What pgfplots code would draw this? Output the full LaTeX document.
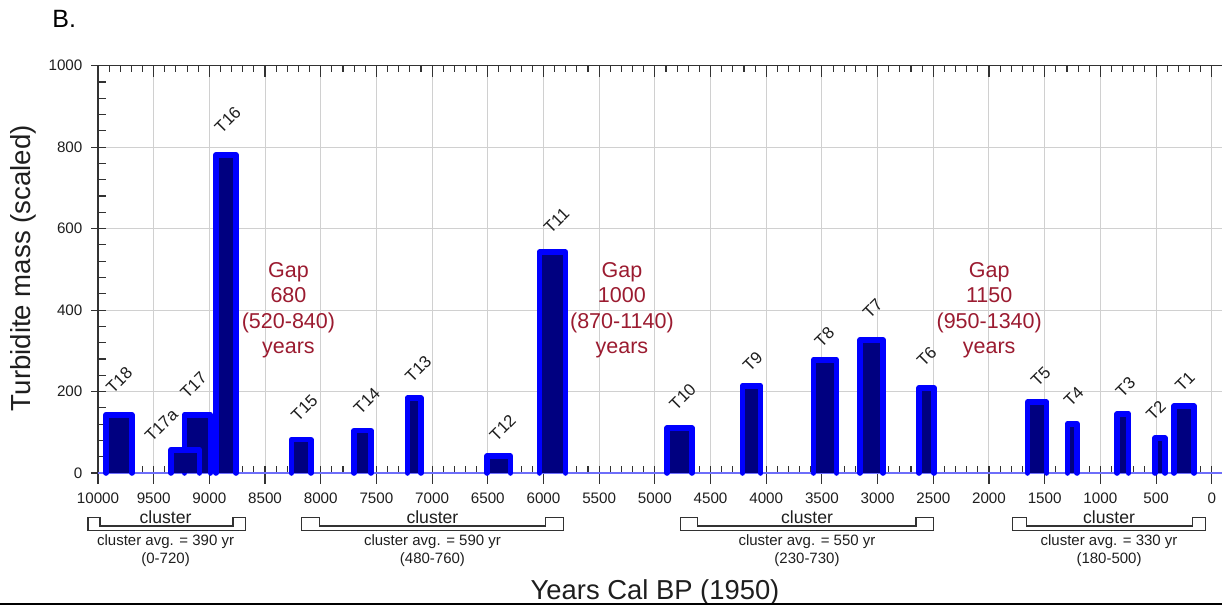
\documentclass[border=0pt]{standalone}
\usepackage{fontspec}
\setmainfont{Liberation Sans}
\usepackage{pgfplots}
\pgfplotsset{compat=1.18}

\definecolor{barblue}{RGB}{0,0,255}
\definecolor{barnavy}{RGB}{0,0,128}
\definecolor{zeroblue}{RGB}{110,110,250}
\definecolor{gridgray}{RGB}{208,208,208}
\definecolor{axisgray}{RGB}{50,50,50}
\definecolor{gapred}{RGB}{155,27,48}
\definecolor{labelgray}{RGB}{30,30,30}

% one turbidite: age range (older, younger) and scaled mass
\newcommand{\turbidite}[3]{\addplot[tbar] coordinates {(#1,0) (#1,#3) (#2,#3) (#2,0)};}
% cluster bracket: outer left, inner left, inner right, outer right (years)
\newcommand{\clusterbracket}[4]{%
  \draw[bracket] (axis cs:#1,-109.7) -- (axis cs:#1,-141.7) -- (axis cs:#4,-141.7)
    -- (axis cs:#4,-109.7) -- (axis cs:#3,-109.7) -- (axis cs:#3,-130.1)
    -- (axis cs:#2,-130.1) -- (axis cs:#2,-109.7) -- cycle;}

\begin{document}
\begin{tikzpicture}[
  tbar/.style={draw=barblue, fill=barnavy, line width=2.8pt, line join=round, line cap=round, mark=none},
  tlab/.style={rotate=45, anchor=base west, inner sep=0pt, xshift=2.2pt, yshift=-1pt,
    font=\fontsize{8.4}{9}\selectfont, text=labelgray},
  gaptext/.style={text=gapred, align=center, inner sep=0pt, font=\fontsize{10.75}{12.75}\selectfont},
  bracket/.style={draw=axisgray, line width=0.6pt},
  cltext/.style={anchor=base, inner sep=0pt, text=labelgray},
  tickc/.style={draw=axisgray, line width=0.55pt},
]
\path[use as bounding box] (-49pt,-66pt) rectangle (562pt,236.5pt);

\begin{axis}[
  at={(0,0)}, anchor=south west,
  scale only axis, width=562pt, height=203.65pt,
  x dir=reverse, xmin=-92, xmax=10000, ymin=0, ymax=1000,
  xtick={0,500,...,10000}, ytick={0,200,...,1000},
  scaled ticks=false,
  grid=major, grid style={gridgray, line width=0.5pt},
  axis line style={draw=none},
  major tick length=0pt, minor tick length=0pt,
  tick style={draw=none},
  clip=false,
  /pgf/number format/assume math mode=true,
  /pgf/number format/set thousands separator={},
  ticklabel style={font=\fontsize{7.6}{9}\selectfont, text=labelgray, inner sep=0pt},
  xticklabel style={anchor=base, yshift=-15.5pt},
  yticklabel style={anchor=east, xshift=-7.6pt},
  xlabel={Years Cal BP (1950)},
  xlabel style={at={(axis description cs:0.4956,-0.3094)}, anchor=base,
    font=\fontsize{13.7}{16}\selectfont, text=labelgray, inner sep=0pt},
  ylabel={Turbidite mass (scaled)},
  ylabel style={at={(axis description cs:-0.0667,0.503)}, anchor=center,
    font=\fontsize{13.8}{16}\selectfont, text=labelgray, inner sep=0pt},
]

% tick marks: top axis inward, zero line major outward / minor inward, left axis
\pgfplotsinvokeforeach{0,100,...,10000}{
  \draw[tickc] (axis cs:#1,1000) -- ++(0pt,-3pt);
  \draw[tickc] (axis cs:#1,0) -- ++(0pt,3.5pt);
}
\pgfplotsinvokeforeach{0,500,...,10000}{
  \draw[tickc] (axis cs:#1,1000) -- ++(0pt,-5.8pt);
  \draw[tickc] (axis cs:#1,0) -- ++(0pt,-5.3pt);
}
\pgfplotsinvokeforeach{0,40,...,1000}{
  \draw[tickc] (axis cs:10000,#1) -- ++(4pt,0pt);
}
\pgfplotsinvokeforeach{0,200,...,1000}{
  \draw[tickc] (axis cs:10000,#1) -- ++(-3.3pt,0pt);
}

% frame: left and top axis lines, blue zero line
\draw[axisgray, line width=0.55pt] (axis cs:10000,0) -- (axis cs:10000,1000) -- (axis cs:-92,1000);
\draw[zeroblue, line width=0.85pt] (axis cs:10000,0) -- (axis cs:-92,0);

% turbidites
\turbidite{9928}{9695}{143}
\turbidite{9223}{8990}{143}
\turbidite{8941}{8761}{781}
\turbidite{9345}{9089}{57}
\turbidite{8263}{8088}{82}
\turbidite{7701}{7549}{104}
\turbidite{7221}{7100}{184}
\turbidite{6507}{6296}{41}
\turbidite{6036}{5802}{542}
\turbidite{4891}{4667}{110}
\turbidite{4213}{4050}{214}
\turbidite{3576}{3369}{278}
\turbidite{3158}{2951}{327}
\turbidite{2628}{2493}{209}
\turbidite{1654}{1483}{174}
\turbidite{1295}{1209}{121}
\turbidite{850}{747}{145}
\turbidite{509}{419}{86}
\turbidite{339}{159}{164}

% event labels
\node[tlab] at (axis cs:9908,187) {T18};
\node[tlab] at (axis cs:9560,69) {T17a};
\node[tlab] at (axis cs:9240,176) {T17};
\node[tlab] at (axis cs:8934,827) {T16};
\node[tlab] at (axis cs:8246,120) {T15};
\node[tlab] at (axis cs:7684,137) {T14};
\node[tlab] at (axis cs:7223,216) {T13};
\node[tlab] at (axis cs:6465,71) {T12};
\node[tlab] at (axis cs:5977,580) {T11};
\node[tlab] at (axis cs:4849,147) {T10};
\node[tlab] at (axis cs:4191,241) {T9};
\node[tlab] at (axis cs:3547,302) {T8};
\node[tlab] at (axis cs:3113,371) {T7};
\node[tlab] at (axis cs:2628,253) {T6};
\node[tlab] at (axis cs:1605,205) {T5};
\node[tlab] at (axis cs:1308,155) {T4};
\node[tlab] at (axis cs:844,179) {T3};
\node[tlab] at (axis cs:569,122) {T2};
\node[tlab] at (axis cs:309,192) {T1};

% gaps between clusters
\node[gaptext] at (axis cs:8290,400) {Gap\\680\\(520-840)\\years};
\node[gaptext] at (axis cs:5296,400) {Gap\\1000\\(870-1140)\\years};
\node[gaptext] at (axis cs:1998,400) {Gap\\1150\\(950-1340)\\years};

% clusters
\clusterbracket{10090}{9982}{8788}{8674}
\clusterbracket{8171}{8013}{5980}{5822}
\clusterbracket{4768}{4615}{2655}{2500}
\clusterbracket{1787}{1661}{174}{54}

\foreach \cx/\avg/\range in {9393/390/0-720, 6997/590/480-760, 3634/550/230-730, 922/330/180-500}{
  \edef\temp{\noexpand\node[cltext, font=\noexpand\fontsize{8.8}{10}\noexpand\selectfont] at (axis cs:\cx,-125.2) {cluster};
    \noexpand\node[cltext, font=\noexpand\fontsize{7.5}{9}\noexpand\selectfont] at (axis cs:\cx,-176.8) {cluster avg. = \avg\space yr};
    \noexpand\node[cltext, font=\noexpand\fontsize{7.5}{9}\noexpand\selectfont] at (axis cs:\cx,-221.7) {(\range)};}
  \temp
}
\end{axis}

\node[anchor=base west, inner sep=0pt, font=\fontsize{12.5}{15}\selectfont] at (-23pt,222.5pt) {B.};
\draw[black, line width=1pt] (-49pt,-65.3pt) -- (562pt,-65.3pt);
\end{tikzpicture}
\end{document}
